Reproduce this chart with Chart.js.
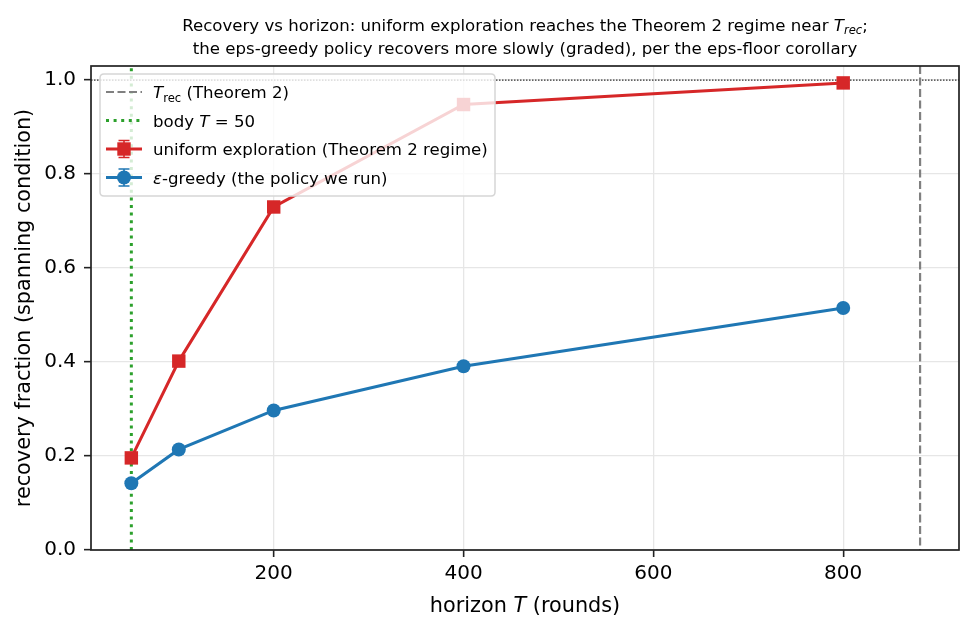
<!DOCTYPE html>
<html><head><meta charset="utf-8">
<script src="https://cdn.jsdelivr.net/npm/chart.js@4.4.1/dist/chart.umd.min.js"></script>
<style>html,body{margin:0;padding:0;background:#fff;}canvas{display:block;}</style>
</head><body>
<canvas id="c" width="974" height="631"></canvas>
<script>
// ---- data ----
const HORIZONS = [50, 100, 200, 400, 800];
const UNIFORM_RECOVERY = [0.196, 0.402, 0.730, 0.948, 0.994];
const EPS_GREEDY_RECOVERY = [0.142, 0.214, 0.297, 0.391, 0.515];
const X_TICKS = [200, 400, 600, 800];
const Y_TICKS = [0.0, 0.2, 0.4, 0.6, 0.8, 1.0];
const T_REC = 881;
const BODY_T = 50;
const FULL_RECOVERY = 1.0;
const X_RANGE = [7.5, 922];
const Y_RANGE = [0, 1.03];

const FONT = '"DejaVu Sans", sans-serif';
const RED = '#d62728', BLUE = '#1f77b4', GREEN = '#2ca02c', GRAY = '#808080';

const TITLE_LINES = [
  [{t:'Recovery vs horizon: uniform exploration reaches the Theorem 2 regime near '},{t:'T',i:true},{t:'rec',i:true,sub:true},{t:';'}],
  [{t:'the eps-greedy policy recovers more slowly (graded), per the eps-floor corollary'}]
];
const X_TITLE = [{t:'horizon '},{t:'T',i:true},{t:' (rounds)'}];
const Y_TITLE = [{t:'recovery fraction (spanning condition)'}];
const LEGEND_ITEMS = [
  {kind:'dash', runs:[{t:'T',i:true},{t:'rec',sub:true},{t:' (Theorem 2)'}]},
  {kind:'dot', runs:[{t:'body '},{t:'T',i:true},{t:' = 50'}]},
  {kind:'rect', runs:[{t:'uniform exploration (Theorem 2 regime)'}]},
  {kind:'circle', runs:[{t:'ε',i:true},{t:'-greedy (the policy we run)'}]}
];

function runFont(r, base){ const s = r.sub ? base*0.7 : base; return (r.i?'italic ':'') + s + 'px ' + FONT; }
function measureRuns(ctx, runs, base){ let w=0; for(const r of runs){ ctx.font=runFont(r,base); w+=ctx.measureText(r.t).width; } return w; }
function drawRuns(ctx, runs, x, y, base, align){
  const w = measureRuns(ctx, runs, base);
  let cx = align==='center' ? x - w/2 : x;
  ctx.textAlign='left'; ctx.textBaseline='alphabetic'; ctx.fillStyle='#000';
  for(const r of runs){ ctx.font=runFont(r,base); ctx.fillText(r.t, cx, y + (r.sub ? base*0.22 : 0)); cx += ctx.measureText(r.t).width; }
}

const refLines = {
  id:'refLines',
  beforeDatasetsDraw(chart){
    const {ctx, chartArea:a, scales:{x,y}} = chart;
    ctx.save();
    ctx.beginPath(); ctx.rect(a.left,a.top,a.right-a.left,a.bottom-a.top); ctx.clip();
    let yy = y.getPixelForValue(FULL_RECOVERY);
    ctx.strokeStyle='#000'; ctx.lineWidth=1; ctx.setLineDash([1.5,1.5]);
    ctx.beginPath(); ctx.moveTo(a.left,yy); ctx.lineTo(a.right,yy); ctx.stroke();
    let xx = x.getPixelForValue(T_REC);
    ctx.strokeStyle=GRAY; ctx.lineWidth=2.2; ctx.setLineDash([8,3.5]);
    ctx.beginPath(); ctx.moveTo(xx,a.top); ctx.lineTo(xx,a.bottom); ctx.stroke();
    xx = x.getPixelForValue(BODY_T);
    ctx.strokeStyle=GREEN; ctx.lineWidth=3; ctx.setLineDash([3,4.6]);
    ctx.beginPath(); ctx.moveTo(xx,a.bottom); ctx.lineTo(xx,a.top); ctx.stroke();
    ctx.restore();
  }
};

const decor = {
  id:'decor',
  afterDatasetsDraw(chart){
    const {ctx} = chart;
    ctx.save();
    const L=100, T=74, R=495, B=196, rad=4;
    ctx.beginPath();
    ctx.moveTo(L+rad,T); ctx.lineTo(R-rad,T); ctx.quadraticCurveTo(R,T,R,T+rad);
    ctx.lineTo(R,B-rad); ctx.quadraticCurveTo(R,B,R-rad,B);
    ctx.lineTo(L+rad,B); ctx.quadraticCurveTo(L,B,L,B-rad);
    ctx.lineTo(L,T+rad); ctx.quadraticCurveTo(L,T,L+rad,T); ctx.closePath();
    ctx.fillStyle='rgba(255,255,255,0.8)'; ctx.fill();
    ctx.strokeStyle='#d6d6d6'; ctx.lineWidth=1.5; ctx.stroke();
    const rows=[92,120.5,149,177.5];
    const hx0=106, hx1=142, hc=124, tx=153;
    LEGEND_ITEMS.forEach((it,k)=>{
      const cy=rows[k];
      ctx.setLineDash([]);
      if(it.kind==='dash'){
        ctx.strokeStyle=GRAY; ctx.lineWidth=2.2; ctx.setLineDash([8,3.5]);
        ctx.beginPath(); ctx.moveTo(hx0,cy); ctx.lineTo(hx1,cy); ctx.stroke();
      } else if(it.kind==='dot'){
        ctx.strokeStyle=GREEN; ctx.lineWidth=3; ctx.setLineDash([3,4.6]);
        ctx.beginPath(); ctx.moveTo(hx0,cy); ctx.lineTo(hx1,cy); ctx.stroke();
      } else {
        const col = it.kind==='rect'?RED:BLUE;
        ctx.strokeStyle=col; ctx.fillStyle=col; ctx.lineWidth=3;
        ctx.beginPath(); ctx.moveTo(hx0,cy); ctx.lineTo(hx1,cy); ctx.stroke();
        ctx.lineWidth=1.6;
        ctx.beginPath(); ctx.moveTo(hc,cy-8.5); ctx.lineTo(hc,cy+8.5);
        ctx.moveTo(hc-5.5,cy-8.5); ctx.lineTo(hc+5.5,cy-8.5);
        ctx.moveTo(hc-5.5,cy+8.5); ctx.lineTo(hc+5.5,cy+8.5); ctx.stroke();
        ctx.beginPath();
        if(it.kind==='rect') ctx.rect(hc-6.7,cy-6.7,13.4,13.4);
        else ctx.arc(hc,cy,7,0,Math.PI*2);
        ctx.fill();
      }
      ctx.setLineDash([]);
      drawRuns(ctx, it.runs, tx, cy+6, 16.6, 'left');
    });
    ctx.restore();
  },
  afterDraw(chart){
    const {ctx, chartArea:a} = chart;
    ctx.save();
    ctx.setLineDash([]);
    ctx.strokeStyle='#222'; ctx.lineWidth=1.7;
    ctx.strokeRect(a.left,a.top,a.right-a.left,a.bottom-a.top);
    const cx=(a.left+a.right)/2, cy=(a.top+a.bottom)/2;
    drawRuns(ctx, TITLE_LINES[0], cx, 30.5, 16.6, 'center');
    drawRuns(ctx, TITLE_LINES[1], cx, 53.5, 16.6, 'center');
    drawRuns(ctx, X_TITLE, cx, 612, 20.8, 'center');
    ctx.translate(30, cy); ctx.rotate(-Math.PI/2);
    drawRuns(ctx, Y_TITLE, 0, 0, 20.8, 'center');
    ctx.restore();
  }
};

new Chart(document.getElementById('c'), {
  type:'line',
  data:{
    datasets:[
      {label:'uniform exploration (Theorem 2 regime)', data:HORIZONS.map((h,i)=>({x:h,y:UNIFORM_RECOVERY[i]})),
       borderColor:RED, backgroundColor:RED, borderWidth:3, pointStyle:'rect', pointRadius:9.5,
       pointBorderWidth:0, pointBackgroundColor:RED, tension:0},
      {label:'ε-greedy (the policy we run)', data:HORIZONS.map((h,i)=>({x:h,y:EPS_GREEDY_RECOVERY[i]})),
       borderColor:BLUE, backgroundColor:BLUE, borderWidth:3, pointStyle:'circle', pointRadius:7,
       pointBorderWidth:0, pointBackgroundColor:BLUE, tension:0}
    ]
  },
  options:{
    responsive:false, animation:false, devicePixelRatio:1,
    layout:{padding:{left:0,right:15,top:66,bottom:0}},
    plugins:{legend:{display:false}, tooltip:{enabled:false}, title:{display:false}},
    scales:{
      x:{type:'linear', min:X_RANGE[0], max:X_RANGE[1],
         afterBuildTicks(s){ s.ticks = X_TICKS.map(v=>({value:v})); },
         afterFit(s){ s.height = 81; },
         grid:{color:'#e6e6e6', lineWidth:1.3, tickColor:'#222', tickLength:7, tickWidth:1.6},
         border:{display:false},
         ticks:{font:{family:FONT,size:20}, color:'#000', padding:5, maxRotation:0, callback:v=>String(v)}},
      y:{type:'linear', min:Y_RANGE[0], max:Y_RANGE[1],
         afterBuildTicks(s){ s.ticks = Y_TICKS.map(v=>({value:v})); },
         afterFit(s){ s.width = 91; },
         grid:{color:'#e6e6e6', lineWidth:1.3, tickColor:'#222', tickLength:7, tickWidth:1.6},
         border:{display:false},
         ticks:{font:{family:FONT,size:20}, color:'#000', padding:8, callback:v=>Number(v).toFixed(1)}}
    }
  },
  plugins:[refLines, decor]
});
</script>
</body></html>
